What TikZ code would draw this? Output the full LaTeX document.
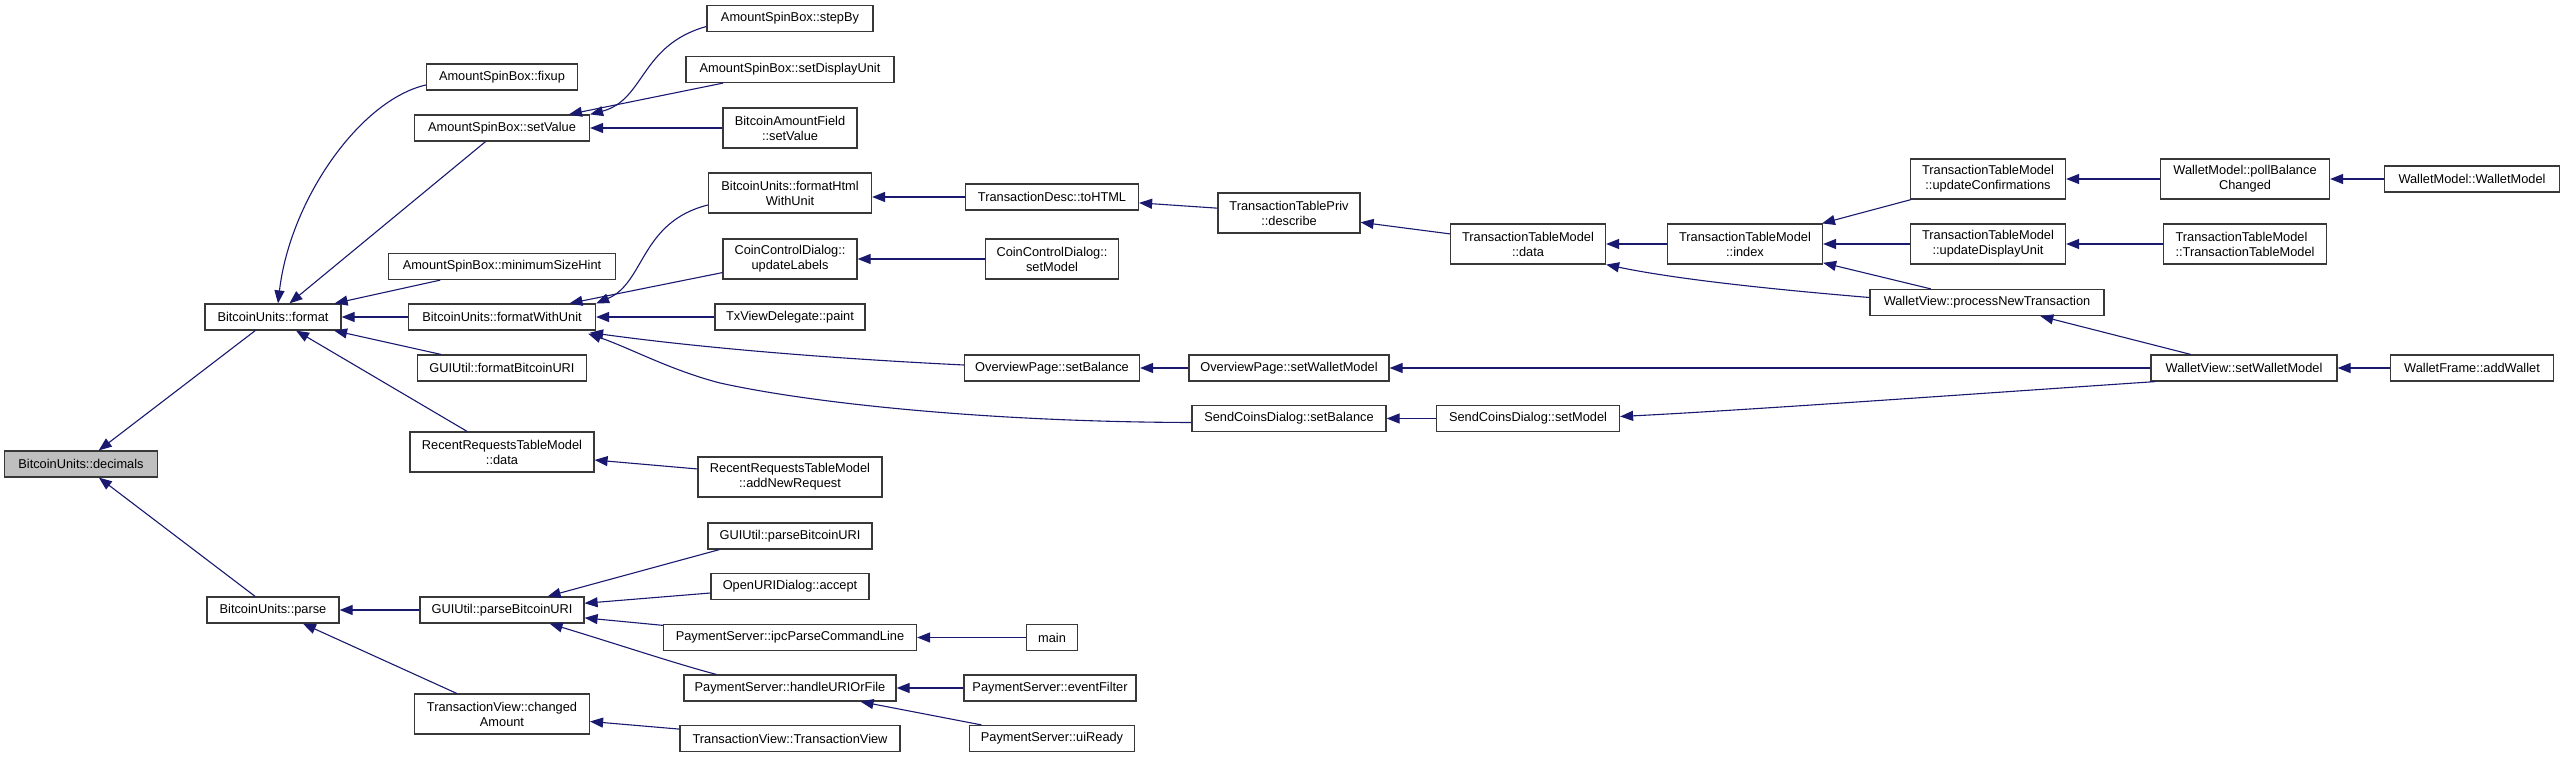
\documentclass[tikz,border=0pt]{standalone}
\usepackage{fontspec}
\setmainfont{Liberation Sans}
\usetikzlibrary{arrows.meta,calc}
\definecolor{dxblue}{RGB}{25,25,112}
\definecolor{dxgray}{RGB}{191,191,191}
\newcommand\nfont{\fontsize{12.8}{15}\selectfont}
\begin{document}
\begin{tikzpicture}[x=1pt,y=-1pt,
  box/.style={draw=black!78, line width=1.2pt, fill=white, inner sep=0pt, font=\nfont, align=center, minimum height=26pt},
  tall/.style={minimum height=40pt},
  root/.style={fill=dxgray},
  conn/.style={draw=dxblue, line width=1.1pt, -{Triangle[length=13pt,width=10pt]}}]
\fill[white] (0,0) rectangle (2565,757);
\useasboundingbox (0,0) rectangle (2565,757);
% column 0
\node[box,root,minimum width=153pt] (dec) at (81,464) {BitcoinUnits::decimals};
% column 1
\node[box,minimum width=136pt] (fmt) at (273,317) {BitcoinUnits::format};
\node[box,minimum width=132pt] (parse) at (273,610) {BitcoinUnits::parse};
% column 2
\node[box,minimum width=151pt] (fixup) at (502,77) {AmountSpinBox::fixup};
\node[box,minimum width=175pt] (asv) at (502,128) {AmountSpinBox::setValue};
\node[box,minimum width=227pt] (msh) at (502,266.5) {AmountSpinBox::minimumSizeHint};
\node[box,minimum width=187pt] (fwu) at (502,317) {BitcoinUnits::formatWithUnit};
\node[box,minimum width=169pt] (fburi) at (502,368) {GUIUtil::formatBitcoinURI};
\node[box,tall,minimum width=184pt] (rrd) at (502,452) {RecentRequestsTableModel\\::data};
\node[box,minimum width=164pt] (pbL) at (502,610) {GUIUtil::parseBitcoinURI};
\node[box,tall,minimum width=175pt] (cha) at (502,714) {TransactionView::changed\\Amount};
% column 3
\node[box,minimum width=166pt] (stepby) at (790,18.5) {AmountSpinBox::stepBy};
\node[box,minimum width=208pt] (sdu) at (790,69.5) {AmountSpinBox::setDisplayUnit};
\node[box,tall,minimum width=134pt] (bafsv) at (790,128) {BitcoinAmountField\\::setValue};
\node[box,tall,minimum width=163pt] (fhtml) at (790,193) {BitcoinUnits::formatHtml\\WithUnit};
\node[box,tall,minimum width=134pt] (ccdul) at (790,259) {CoinControlDialog::\\updateLabels};
\node[box,minimum width=150pt] (txvd) at (790,317) {TxViewDelegate::paint};
\node[box,tall,minimum width=184pt] (anr) at (790,477) {RecentRequestsTableModel\\::addNewRequest};
\node[box,minimum width=164pt] (pbR) at (790,536) {GUIUtil::parseBitcoinURI};
\node[box,minimum width=158pt] (acc) at (790,586.5) {OpenURIDialog::accept};
\node[box,minimum width=253pt] (ipc) at (790,637.5) {PaymentServer::ipcParseCommandLine};
\node[box,minimum width=212pt] (huf) at (790,688) {PaymentServer::handleURIOrFile};
\node[box,minimum width=220pt] (tvtv) at (790,738.5) {TransactionView::TransactionView};
% column 4
\node[box,minimum width=173pt] (toh) at (1052,197) {TransactionDesc::toHTML};
\node[box,tall,minimum width=133pt] (ccdsm) at (1052,259) {CoinControlDialog::\\setModel};
\node[box,minimum width=175pt] (opsb) at (1052,368) {OverviewPage::setBalance};
\node[box,minimum width=51pt] (main) at (1052,637.5) {main};
\node[box,minimum width=172pt] (evf) at (1050,688) {PaymentServer::eventFilter};
\node[box,minimum width=165pt] (uir) at (1052,738.5) {PaymentServer::uiReady};
% column 5
\node[box,tall,minimum width=142pt] (desc) at (1289,213) {TransactionTablePriv\\::describe};
\node[box,minimum width=200pt] (opswm) at (1289,368) {OverviewPage::setWalletModel};
\node[box,minimum width=194pt] (scdsb) at (1289,418.5) {SendCoinsDialog::setBalance};
% column 6
\node[box,tall,minimum width=155pt] (ttmd) at (1528,244) {TransactionTableModel\\::data};
\node[box,minimum width=183pt] (scdsm) at (1528,418.5) {SendCoinsDialog::setModel};
% column 7
\node[box,tall,minimum width=155pt] (ttmi) at (1745,244) {TransactionTableModel\\::index};
% column 8
\node[box,tall,minimum width=155pt] (upc) at (1988,179) {TransactionTableModel\\::updateConfirmations};
\node[box,tall,minimum width=155pt] (upd) at (1988,244) {TransactionTableModel\\::updateDisplayUnit};
\node[box,minimum width=234pt] (ptx) at (1987,302.5) {WalletView::processNewTransaction};
% column 9
\node[box,tall,minimum width=169pt] (pbc) at (2245,179) {WalletModel::pollBalance\\Changed};
\node[box,tall,minimum width=163pt,align=left] (ttmttm) at (2245,244) {TransactionTableModel\\::TransactionTableModel};
\node[box,minimum width=186pt] (wvswm) at (2244,368) {WalletView::setWalletModel};
% column 10
\node[box,minimum width=175pt] (wmwm) at (2472,179) {WalletModel::WalletModel};
\node[box,minimum width=163pt] (aw) at (2472,368) {WalletFrame::addWallet};
% edges
\draw[conn] (fmt) -- (dec);
\draw[conn] (parse) -- (dec);
\draw[conn] ($(fixup.west)+(0,8)$) .. controls (360,100) and (290,200) .. ($(fmt.north)+(5,0)$);
\draw[conn] (asv) -- (fmt);
\draw[conn] (msh) -- (fmt);
\draw[conn] (fwu) -- (fmt);
\draw[conn] (fburi) -- (fmt);
\draw[conn] (rrd) -- (fmt);
\draw[conn] (pbL) -- (parse);
\draw[conn] (cha) -- (parse);
\draw[conn] ($(stepby.west)+(0,8)$) .. controls (640,45) and (645,100) .. (asv.north east);
\draw[conn] (sdu) -- (asv);
\draw[conn] (bafsv) -- (asv);
\draw[conn] ($(fhtml.west)+(0,12)$) .. controls (640,222) and (645,283) .. (fwu.north east);
\draw[conn] (ccdul) -- (fwu);
\draw[conn] (txvd) -- (fwu);
\draw[conn] ($(opsb.west)+(0,-3)$) .. controls (800,357) and (680,345) .. ($(fwu.south east)+(-6,2)$);
\draw[conn] ($(scdsb.west)+(0,4)$) .. controls (1000,422) and (820,405) .. (720,383) .. controls (670,370) and (630,348) .. ($(fwu.south east)+(-8,3)$);
\draw[conn] (anr) -- (rrd);
\draw[conn] ($(pbR.south west)+(12,0)$) -- ($(pbL.north east)+(-37,0)$);
\draw[conn] (acc) -- (pbL);
\draw[conn] (ipc) -- (pbL);
\draw[conn] ($(huf.north west)+(33,0)$) .. controls (680,665) and (620,645) .. ($(pbL.south east)+(-35,0)$);
\draw[conn] (tvtv) -- (cha);
\draw[conn] (toh.west) -- (toh.west -| fhtml.east);
\draw[conn] (ccdsm) -- (ccdul);
\draw[conn] (opswm) -- (opsb);
\draw[conn] (main) -- (ipc);
\draw[conn] (evf) -- (huf);
\draw[conn] (uir) -- (huf);
\draw[conn] (desc) -- (toh);
\draw[conn] (scdsm) -- (scdsb);
\draw[conn] (ttmd) -- (desc);
\draw[conn] (ttmi) -- (ttmd);
\draw[conn] ($(ptx.west)+(0,-5)$) .. controls (1780,290) and (1680,280) .. (ttmd.south east);
\draw[conn] (upc) -- (ttmi);
\draw[conn] (upd) -- (ttmi);
\draw[conn] (ptx) -- (ttmi);
\draw[conn] (pbc) -- (upc);
\draw[conn] (ttmttm) -- (upd);
\draw[conn] (wvswm) -- (ptx);
\draw[conn] (wvswm) -- (opswm);
\draw[conn] ($(wvswm.south west)+(5,0)$) .. controls (2000,392) and (1750,410) .. ($(scdsm.east)+(0,-2)$);
\draw[conn] (wmwm) -- (pbc);
\draw[conn] (aw) -- (wvswm);
\end{tikzpicture}
\end{document}
